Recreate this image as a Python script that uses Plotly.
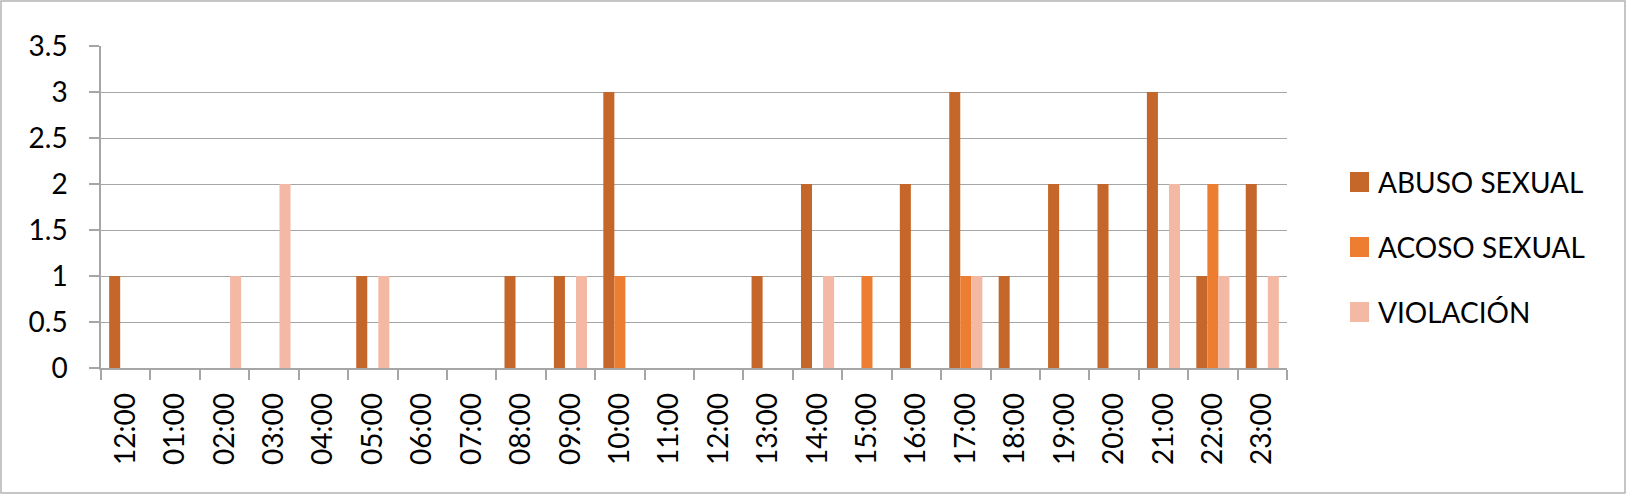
import plotly.graph_objects as go

# hours as printed on the axis (12:00 appears twice in the source chart)
hours = ['12:00', '01:00', '02:00', '03:00', '04:00', '05:00', '06:00', '07:00',
         '08:00', '09:00', '10:00', '11:00', '12:00', '13:00', '14:00', '15:00',
         '16:00', '17:00', '18:00', '19:00', '20:00', '21:00', '22:00', '23:00']

abuso_sexual = [1, 0, 0, 0, 0, 1, 0, 0, 1, 1, 3, 0, 0, 1, 2, 0, 2, 3, 1, 2, 2, 3, 1, 2]
acoso_sexual = [0, 0, 0, 0, 0, 0, 0, 0, 0, 0, 1, 0, 0, 0, 0, 1, 0, 1, 0, 0, 0, 0, 2, 0]
violacion = [0, 0, 1, 2, 0, 1, 0, 0, 0, 1, 0, 0, 0, 0, 1, 0, 0, 1, 0, 0, 0, 2, 1, 1]

series_names = ['ABUSO SEXUAL', 'ACOSO SEXUAL', 'VIOLACIÓN']
series_values = [abuso_sexual, acoso_sexual, violacion]
colors = ['#C5672B', '#ED7D31', '#F4B9A4']  # dark orange, orange, light salmon

W, H = 1628, 495
PLOT_L, PLOT_R, PLOT_T, PLOT_B = 101, 1287, 46, 368  # plot area in pixels
FONT = 'Lato'
GREY = '#A6A6A6'


def px_x(p):
    return (p - PLOT_L) / (PLOT_R - PLOT_L)


def px_y(p):
    return (PLOT_B - p) / (PLOT_B - PLOT_T)


positions = list(range(len(hours)))

fig = go.Figure()
for name, vals, col in zip(series_names, series_values, colors):
    fig.add_trace(go.Bar(name=name, x=positions, y=vals,
                         marker=dict(color=col, line=dict(width=0)),
                         showlegend=False))

# legend drawn by hand so the squares can be as big as in the original
shapes = []
annotations = []
for i, (name, col) in enumerate(zip(series_names, colors)):
    cy = 182 + i * 65
    shapes.append(dict(type='rect', xref='paper', yref='paper',
                       x0=px_x(1350), x1=px_x(1369), y0=px_y(cy + 10), y1=px_y(cy - 10),
                       fillcolor=col, line=dict(width=0)))
    annotations.append(dict(xref='paper', yref='paper', x=px_x(1376), y=px_y(cy),
                            xanchor='left', yanchor='middle', text=name, showarrow=False,
                            font=dict(family=FONT, size=28, color='black')))

# outer border of the chart
shapes.append(dict(type='rect', xref='paper', yref='paper',
                   x0=px_x(1), x1=px_x(W - 3), y0=px_y(H - 2), y1=px_y(1),
                   line=dict(color='#B4B4B4', width=1.5), fillcolor='rgba(0,0,0,0)'))

fig.update_layout(
    width=W, height=H,
    margin=dict(l=PLOT_L, r=W - PLOT_R, t=PLOT_T, b=H - PLOT_B),
    barmode='group', bargap=0.33, bargroupgap=0,
    plot_bgcolor='white', paper_bgcolor='white',
    font=dict(family=FONT, size=28, color='black'),
    shapes=shapes, annotations=annotations,
    xaxis=dict(range=[-0.5, len(hours) - 0.5], tickvals=positions, ticktext=hours,
               tickangle=-90, ticks='', showgrid=False, zeroline=False,
               showline=True, linecolor=GREY, linewidth=1.5,
               minor=dict(ticks='outside', tick0=-0.5, dtick=1, ticklen=10,
                          tickcolor=GREY, tickwidth=1.5, showgrid=False),
               ticklabelstandoff=12, tickfont=dict(family=FONT, size=28)),
    yaxis=dict(range=[0, 3.5], dtick=0.5, showgrid=True, gridcolor=GREY, gridwidth=1.3,
               zeroline=False, showline=True, linecolor=GREY, linewidth=1.5,
               ticks='outside', ticklen=10, tickcolor=GREY, tickwidth=1.5,
               ticklabelstandoff=16, tickfont=dict(family=FONT, size=28)),
)

# page has a default 8px body margin; drop it so the chart sits at the corner
fig.write_html("out.html", config={'displayModeBar': False},
               post_script="document.body.style.margin='0';")
